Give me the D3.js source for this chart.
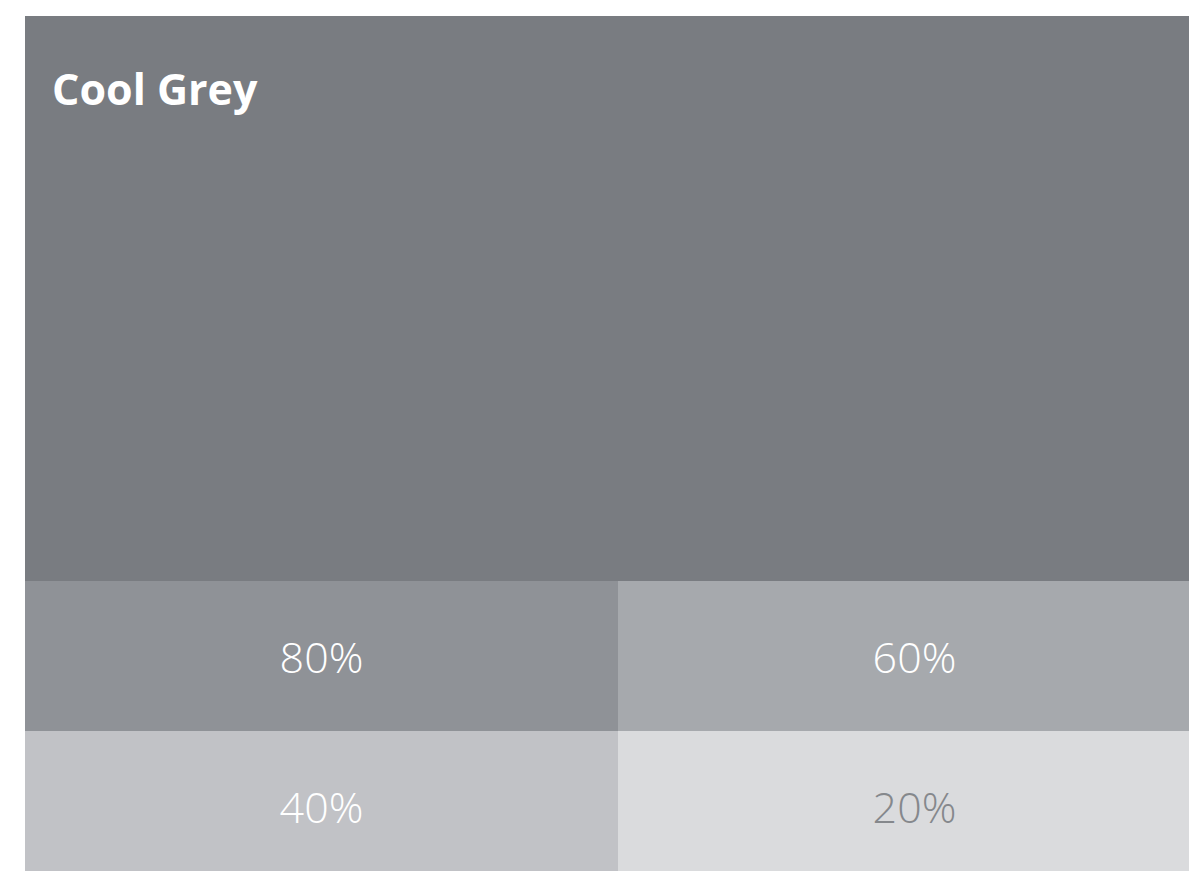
<!DOCTYPE html>
<html><head><meta charset="utf-8">
<script src="https://cdn.jsdelivr.net/npm/d3@7"></script>
<style>html,body{margin:0;padding:0;background:#fff;overflow:hidden;}svg{display:block;}</style>
</head><body>
<script>
const title = "Cool Grey";
const baseColor = "#797c81";
const tints = ["80%", "60%", "40%", "20%"];
const tintColors = ["#8f9297", "#a6a9ad", "#c1c2c6", "#dadbdd"];
const labelColors = ["#ffffff", "#ffffff", "#ffffff", "#85888c"];
const cols = ["left", "right"];
const rows = ["top", "bottom"];

const W = 1189, H = 871;
const svg = d3.select("body").append("svg").attr("width", W).attr("height", H);

const x0 = 25, y0 = 16, mainBottom = 581, rowH = 150, colW = 593;
const x = d3.scaleBand().domain(cols).range([x0, x0 + 2 * colW]);
const y = d3.scaleBand().domain(rows).range([mainBottom, mainBottom + 2 * rowH]);

svg.append("rect").attr("x", x0).attr("y", y0).attr("width", 2 * colW).attr("height", mainBottom - y0).attr("fill", baseColor);
svg.append("text").attr("x", 52).attr("y", 105).attr("fill", "#fff")
  .style("font-family", "'Open Sans', sans-serif").style("font-weight", 700).style("font-size", "43px").text(title);

const cells = tints.map((t, i) => ({t, c: tintColors[i], lc: labelColors[i], col: cols[i % 2], row: rows[Math.floor(i / 2)]}));
const g = svg.selectAll("g.cell").data(cells).join("g").attr("class", "cell");
g.append("rect").attr("x", d => x(d.col)).attr("y", d => y(d.row)).attr("width", x.bandwidth()).attr("height", y.bandwidth()).attr("fill", d => d.c);
g.append("text").attr("x", d => x(d.col) + x.bandwidth() / 2).attr("y", d => y(d.row) + 92)
  .attr("text-anchor", "middle").attr("fill", d => d.lc)
  .style("font-family", "'Open Sans', sans-serif").style("font-weight", 300).style("font-size", "43px").text(d => d.t);
</script>
</body></html>
